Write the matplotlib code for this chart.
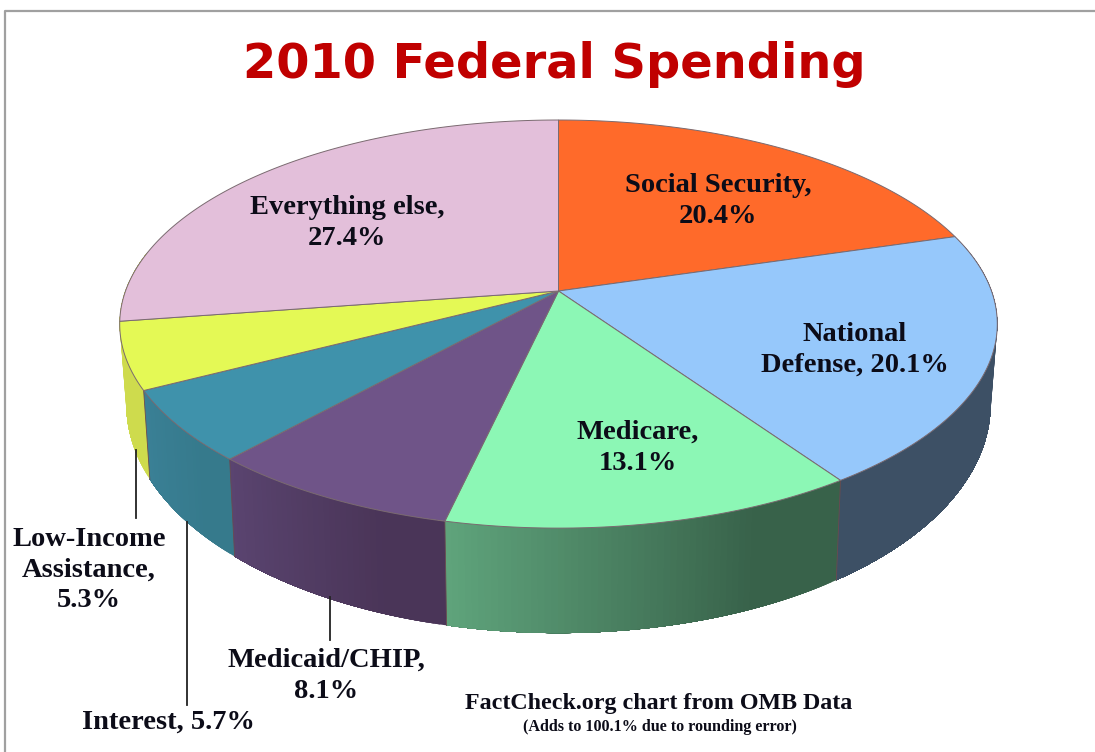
import numpy as np
import matplotlib
matplotlib.use('Agg')
import matplotlib.pyplot as plt
from matplotlib.colors import to_rgb

categories = ['Social Security', 'National Defense', 'Medicare', 'Medicaid/CHIP',
              'Interest', 'Low-Income Assistance', 'Everything else']
values = [20.4, 20.1, 13.1, 8.1, 5.7, 5.3, 27.4]
labels = ['Social Security,\n20.4%', 'National\nDefense, 20.1%', 'Medicare,\n13.1%',
          'Medicaid/CHIP,\n8.1%', 'Interest, 5.7%', 'Low-Income\nAssistance,\n5.3%',
          'Everything else,\n27.4%']
top_colors = ['#FF6A2A', '#96C8FB', '#8CF7B5', '#6F5488', '#3F92AB', '#E4F955', '#E3BFDA']
side_left = ['#C85020', '#3D5065', '#5FA47C', '#5A4470', '#3A8096', '#D0DC4E', '#B090A8']
side_right = ['#C85020', '#3D5065', '#38624A', '#4A3558', '#367A8C', '#CEDB4D', '#B090A8']

# where things go on the 1095x752 canvas
label_xy = [(718, 201), (855, 350), (638, 448), (326, 676), (168, 722), (89, 570), (347, 223)]
leaders = [(136, 450, 518), (187, 522, 705), (330, 597, 640)]

CX, CY = 558.5, 291
A, B, K = 433, 198.7, 0.162  # perspective squash of the disc


def project(theta, r=1.0, bottom=False):
    # theta in degrees, clockwise from 12 o'clock
    t = np.radians(theta)
    u = r * np.sin(t)
    v = -r * np.cos(t)
    s = 1 / (1 - K * v)
    x = A * u * s
    y = B * v * s
    if bottom:
        return CX + 0.985 * x, CY + y + 75 + 30 * v
    return CX + x, CY + y


fig = plt.figure(figsize=(10.95, 7.52), dpi=100)
ax = fig.add_axes([0, 0, 1, 1])
ax.set_xlim(0, 1095)
ax.set_ylim(752, 0)
ax.axis('off')

# frame
ax.plot([5, 5, 1095], [752, 11, 11], color='#A0A0A0', lw=1.6)

total = float(sum(values))
edges = np.concatenate([[0], np.cumsum(values)]) / total * 360

# side wall first, in strips so it can shade along the slice
# only National Defense to Low-Income show; the last one runs on round the silhouette
for i in range(1, 6):
    lo, hi = edges[i], edges[i + 1]
    if i == 5:
        hi = hi + 20
    steps = int((hi - lo) / 0.75) + 1
    grid = np.linspace(lo, hi, steps + 1)
    c_r = np.array(to_rgb(side_right[i]))
    c_l = np.array(to_rgb(side_left[i]))
    for j in range(steps):
        f = (j + 0.5) / steps
        f = max(0, (f - 0.25) / 0.75)  # stays dark for a while at the right end
        # runs to the far end of the slice, the next strip paints over it
        a, b = grid[j], hi
        seg = np.linspace(a, b, 40)
        x1, y1 = project(seg)
        x2, y2 = project(seg[::-1], bottom=True)
        col = c_r * (1 - f) + c_l * f
        ax.fill(np.r_[x1, x2], np.r_[y1, y2], color=col, lw=0, zorder=2)

# later slices must sit over the overshoot of earlier ones, so seams go last
for ang in edges[2:6]:
    x1, y1 = project(ang)
    x2, y2 = project(ang, bottom=True)
    ax.plot([x1, x2], [y1, y2], color='#6B4A50', lw=0.6, zorder=3)

# top surface
for i in range(len(values)):
    grid = np.linspace(edges[i], edges[i + 1], 120)
    x, y = project(grid)
    ax.fill(np.r_[CX, x], np.r_[CY, y], facecolor=top_colors[i],
            edgecolor='#7A6A70', lw=0.7, zorder=4)

# leader lines
for x, y0, y1 in leaders:
    ax.plot([x, x], [y0, y1], color='#222222', lw=1.3, zorder=5)

# text
for lab, (x, y) in zip(labels, label_xy):
    ax.text(x, y, lab, ha='center', va='center', family='Liberation Serif', weight='bold',
            fontsize=20.5, color='#0C0C18', linespacing=1.31, zorder=6)

ax.text(554, 78, '2010 Federal Spending', ha='center', va='baseline', family='DejaVu Sans',
        weight='bold', fontsize=34.5, color='#C00000')
ax.text(659, 703, 'FactCheck.org chart from OMB Data', ha='center', va='center',
        family='Liberation Serif', weight='bold', fontsize=17.3, color='#0C0C18')
ax.text(660, 727, '(Adds to 100.1% due to rounding error)', ha='center', va='center',
        family='Liberation Serif', weight='bold', fontsize=11.6, color='#0C0C18')

fig.savefig('out.png', dpi=100)
